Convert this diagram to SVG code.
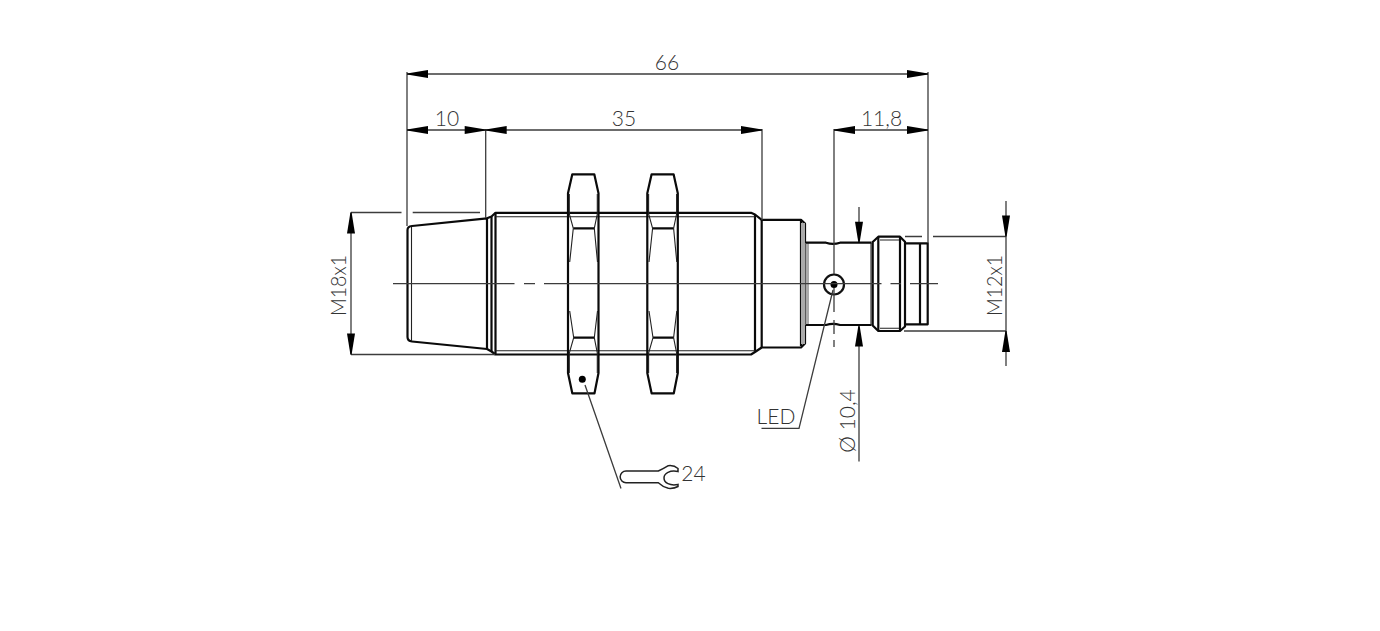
<svg xmlns="http://www.w3.org/2000/svg" width="1380" height="631" viewBox="0 0 1380 631">
<style>
.o{fill:none;stroke:#0a0a0a;stroke-width:2.200;stroke-linejoin:round}
.t{fill:none;stroke:#222;stroke-width:1.100}
.d{fill:none;stroke:#3c3c3c;stroke-width:1.300}
.w{fill:none;stroke:#222;stroke-width:1.500}
.g{fill:#aaa;stroke:none}
text{font-family:"Lato","Liberation Sans",sans-serif;font-size:21px;font-weight:300;fill:#333;text-anchor:middle}
</style>
<defs>
<path id="ah" d="M0 -0.600L21 -4V4L0 0.600Z" fill="#000"/>
<g id="nutshape">
<path class="o" d="M4.800 174.300H26.800L31 193.300V373L27 393.300H4.800L0.500 373V193.300Z"/>
<path class="o" d="M5.800 228.300H26.800M6.200 337.700H26.800"/>
<path class="t" d="M1.800 194V214L5.800 228.300L2.200 262M1.800 373V353L6.200 337.700L2.200 311M29.800 194V214L26.800 228.300L30 262M29.800 373V353L26.800 337.700L30 311"/>
</g>
</defs>
<rect width="1380" height="631" fill="#fff"/>
<g id="body">
<path class="o" d="M412 226L487 218.300V349L412 341.500Q407.500 341 407.500 337V230Q407.500 226.500 412 226Z"/>
<path class="t" d="M411.500 227V341"/>
<path class="o" d="M487 218.300L491.500 216.500L495.500 212.800H751L755 214.500L761.700 219.800H801L805 223.500V343.500L801 347.500H761.700L755 352L751 354.500H495.500L491.500 351.500L487 349"/>
<path class="o" d="M491.500 216.500V351.500M495.500 212.800V354.500M755 214.500V352M761.700 219.800V347.500M801 221V346"/>
<path class="t" d="M495.500 216.700H755M495.500 350.700H755"/>
<rect class="g" x="801" y="223" width="4" height="121"/>
<rect class="g" x="805.500" y="243" width="3.500" height="82"/>
<path class="o" d="M806 242.700H826Q833 245 840 242.700H871.500M806 325H826Q833 322.700 840 325H871.500"/>
<path class="t" d="M871 243V325"/>
<path class="o" d="M872.700 242L878.300 236.700H900L905 241.700V326.500L900 331H878.300L872.700 325.500Z"/>
<path class="o" d="M878.300 237V331M900 237V331M905 243.300H927.700V324.300H905M920 243.300V324.300"/>
<path class="t" d="M880 240H899M880 328.300H899"/>
</g>
<g id="nut1">
<use href="#nutshape" x="567.500"/>
</g>
<g id="nut2">
<use href="#nutshape" x="646.800"/>
</g>
<g id="led">
<circle cx="834" cy="284.500" r="10" fill="none" stroke="#111" stroke-width="2.200"/>
<circle cx="834" cy="284.500" r="3.500" fill="#000"/>
</g>
<g id="connectors">
<path class="d" d="M393 283.700H514.500M524 283.700H535M544 283.700H881.500M890.500 283.700H901M910 283.700H938"/>
<path class="d" d="M407 72V226M485.700 129V218M762 129V220M834 129V274M928 72V243"/>
<path class="d" d="M834 288V312M834 320V334M834 340V347"/>
<path class="d" d="M407 74H928M407 130H485.700M485.700 130H762M834 130H928"/>
<path class="d" d="M351 212.500V354.500M1006 201V366M859 207V240M859 327V461.500"/>
<path class="d" d="M351 212.500H401.500M412.700 212.500H480M351 354.500H495M905 236.500H922M933 236.500H1006M904 331H1006"/>
<path class="d" d="M833 290L799 428.300H761.500M585 385L621 488.500"/>
<path class="w" d="M626 471H658.300Q663 469 668.300 465.700Q674 465 678 468.500V471.500C670 470 664 473 664 478C664 483 670 486 678 484.500V486.500Q674 488.800 668.300 488.300Q663 487 658.300 482.700H626A5.800 5.800 0 0 1 626 471Z"/>
<circle cx="582.300" cy="379.300" r="3.500" fill="#000"/>
<use href="#ah" transform="translate(407 74)"/>
<use href="#ah" transform="translate(928 74) rotate(180)"/>
<use href="#ah" transform="translate(407 130)"/>
<use href="#ah" transform="translate(485.700 130) rotate(180)"/>
<use href="#ah" transform="translate(485.700 130)"/>
<use href="#ah" transform="translate(762 130) rotate(180)"/>
<use href="#ah" transform="translate(834 130)"/>
<use href="#ah" transform="translate(928 130) rotate(180)"/>
<use href="#ah" transform="translate(351 212.500) rotate(90)"/>
<use href="#ah" transform="translate(351 354.500) rotate(-90)"/>
<use href="#ah" transform="translate(1006 236.500) rotate(-90)"/>
<use href="#ah" transform="translate(1006 331) rotate(90)"/>
<use href="#ah" transform="translate(859 242.700) rotate(-90)"/>
<use href="#ah" transform="translate(859 325.500) rotate(90)"/>
</g>
<g id="labels">
<text x="667" y="70">66</text>
<text x="447" y="126">10</text>
<text x="624" y="126">35</text>
<text x="881.500" y="126">11,8</text>
<text transform="translate(346 285.500) rotate(-90)" textLength="61" lengthAdjust="spacingAndGlyphs">M18x1</text>
<text transform="translate(1001.500 285.500) rotate(-90)" textLength="61" lengthAdjust="spacingAndGlyphs">M12x1</text>
<text x="776" y="424">LED</text>
<text transform="translate(855 421) rotate(-90)">Ø 10,4</text>
<text x="693.500" y="481">24</text>
</g>
</svg>
